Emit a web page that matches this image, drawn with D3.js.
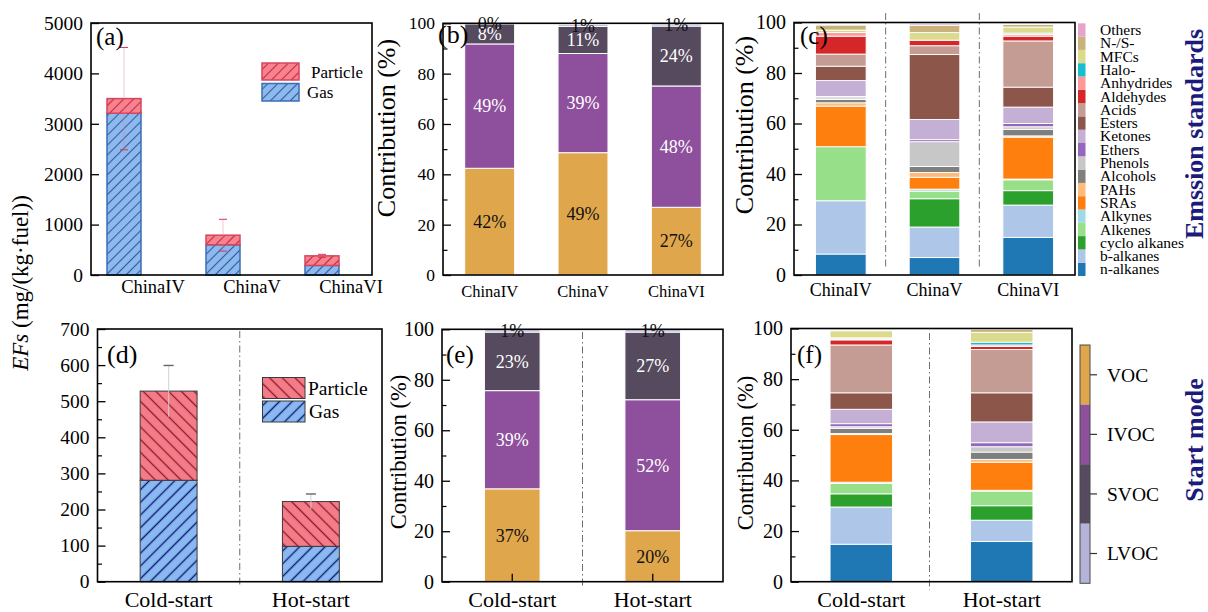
<!DOCTYPE html>
<html>
<head>
<meta charset="utf-8">
<script src="https://cdn.jsdelivr.net/npm/d3@7"></script>
<style>
  body { margin: 0; background: #fff; }
  svg { display: block; }
</style>
</head>
<body>
<svg id="fig" width="1208" height="612"></svg>
<script>
// ---------- categories ----------
const standards = ["ChinaIV", "ChinaV", "ChinaVI"];
const startModes = ["Cold-start", "Hot-start"];

// ---------- (a) emission factors by emission standard, mg/(kg·fuel) ----------
const gasStd = [3210, 600, 190];
const particleStd = [290, 190, 190];
const errStd = [1015, 315, 30];

// ---------- (d) emission factors by start mode ----------
const gasStart = [281, 98];
const particleStart = [247, 124];
const errStart = [71, 21];

// ---------- (b), (e) volatility fractions, % ----------
const volatility = ["VOC", "IVOC", "SVOC", "LVOC"];
const vocStd = [42.4, 48.6, 26.9];
const ivocStd = [49.4, 39.4, 48.2];
const svocStd = [8.0, 10.8, 23.8];
const lvocStd = [0.2, 0.8, 0.8];
const vocStart = [36.8, 20.2];
const ivocStart = [38.9, 51.9];
const svocStart = [23.2, 26.8];
const lvocStart = [0.9, 0.9];

// ---------- (c), (f) compound classes, % ----------
const classes = ["n-alkanes", "b-alkanes", "cyclo alkanes", "Alkenes", "Alkynes", "SRAs", "PAHs",
  "Alcohols", "Phenols", "Ethers", "Ketones", "Esters", "Acids", "Aldehydes", "Anhydrides",
  "Halo-", "MFCs", "N-/S-", "Others"];
const chinaIV  = [8.3, 21.1, 0, 21.4, 0, 16.1, 1.3, 1.3, 0.7, 0.5, 6.3, 5.7, 4.8, 7.1, 1.4, 0, 1.0, 2.0, 0.3];
const chinaV   = [6.9, 12.1, 11.2, 3.0, 0.8, 4.7, 1.9, 2.4, 9.8, 0.8, 8.0, 25.7, 3.5, 2.2, 0, 0, 3.0, 2.9, 0.6];
const chinaVI  = [14.9, 12.8, 5.7, 4.3, 0.3, 16.6, 0.5, 2.6, 1.0, 1.3, 6.5, 7.9, 18.3, 1.9, 0.7, 0.5, 2.4, 1.0, 0.3];
const coldStart = [14.8, 14.7, 5.2, 4.1, 0.5, 18.8, 0.4, 2.1, 0.6, 1.2, 5.7, 6.5, 18.9, 2.0, 0.4, 0.4, 2.8, 0.4, 0];
const hotStart  = [15.9, 8.4, 5.7, 5.8, 0.3, 11.1, 1.1, 2.9, 2.1, 1.6, 8.2, 11.5, 17.1, 1.2, 0.6, 1.1, 3.9, 1.1, 0.2];

// ---------- tick values ----------
const ticksEFStd = [0, 1000, 2000, 3000, 4000, 5000];
const ticksEFStart = [0, 100, 200, 300, 400, 500, 600, 700];
const minorEFStart = [50, 150, 250, 350, 450, 550, 650];
const ticksPct = [0, 20, 40, 60, 80, 100];
const minorPct = [10, 30, 50, 70, 90];

// ---------- styling ----------
const SERIF = "'Liberation Serif','Times New Roman',serif";
const classColors = ["#1f77b4", "#aec7e8", "#2ca02c", "#98df8a", "#9edae5", "#ff7f0e", "#ffbb78",
  "#7f7f7f", "#c7c7c7", "#9467bd", "#c5b0d5", "#8c564b", "#c49c94", "#d62728", "#ff9896",
  "#17becf", "#dbdb8d", "#c9b27c", "#e7a3cb"];
const volColors = { VOC: "#e0a64b", IVOC: "#8e4f9c", SVOC: "#564a5e", LVOC: "#b4b3d8" };
const volText = { VOC: "#111", IVOC: "#fff", SVOC: "#fff", LVOC: "#111" };
const classColor = d3.scaleOrdinal().domain(classes).range(classColors);

const svg = d3.select("#fig");
const defs = svg.append("defs");

function hatch(id, bg, fg, size, angle, sw) {
  const p = defs.append("pattern").attr("id", id).attr("patternUnits", "userSpaceOnUse")
    .attr("width", size).attr("height", size).attr("patternTransform", `rotate(${angle})`);
  p.append("rect").attr("width", size).attr("height", size).attr("fill", bg);
  p.append("line").attr("x1", size / 2).attr("x2", size / 2).attr("y1", 0).attr("y2", size)
    .attr("stroke", fg).attr("stroke-width", sw);
}
hatch("gasA", "#8db9ef", "#2f5e9e", 7, 45, 1.1);
hatch("parA", "#f7838f", "#c8243f", 7, 45, 1.1);
hatch("gasD", "#8ab8f0", "#0c1a78", 9, 45, 1.4);
hatch("parD", "#f47c86", "#8c1838", 9, -45, 1.3);

// panel plot boxes
const A = { l: 91, t: 23, r: 372, b: 275 };
const B = { l: 443, t: 23.3, r: 723, b: 275 };
const C = { l: 794, t: 22.5, r: 1075, b: 275 };
const D = { l: 97.5, t: 329, r: 382, b: 581.7 };
const E = { l: 442, t: 329.3, r: 723, b: 581.7 };
const F = { l: 791, t: 328.5, r: 1072, b: 581.7 };

function frame(p) {
  svg.append("rect").attr("x", p.l).attr("y", p.t).attr("width", p.r - p.l).attr("height", p.b - p.t)
    .attr("fill", "none").attr("stroke", "#000").attr("stroke-width", 1.6);
}

function yAxis(p, y, major, minor, fs) {
  const g = svg.append("g").attr("transform", `translate(${p.l},0)`)
    .call(d3.axisLeft(y).tickValues(major).tickFormat(d3.format("d"))
      .tickSizeInner(-8).tickSizeOuter(0).tickPadding(8));
  g.select(".domain").remove();
  g.selectAll("line").attr("stroke", "#000").attr("stroke-width", 1.3);
  g.selectAll("text").attr("font-family", SERIF).attr("font-size", fs).attr("fill", "#000");
  if (minor) {
    const m = svg.append("g").attr("transform", `translate(${p.l},0)`)
      .call(d3.axisLeft(y).tickValues(minor).tickSizeInner(-4.5).tickSizeOuter(0).tickFormat(""));
    m.select(".domain").remove();
    m.selectAll("line").attr("stroke", "#000").attr("stroke-width", 1.2);
  }
}

function catLabels(x, cats, yb, fs, offset) {
  svg.append("g").selectAll("text").data(cats).join("text")
    .attr("x", d => x(d) + offset).attr("y", yb)
    .attr("text-anchor", "middle").attr("font-family", SERIF).attr("font-size", fs)
    .text(d => d);
}

function yTitle(x, y, fs, parts) {
  const t = svg.append("text").attr("transform", `translate(${x},${y}) rotate(-90)`)
    .attr("text-anchor", "middle").attr("font-family", SERIF).attr("font-size", fs);
  parts.forEach(p => t.append("tspan").attr("font-style", p.italic ? "italic" : null).text(p.text));
}

function panelTag(x, y, fs, s) {
  svg.append("text").attr("x", x).attr("y", y).attr("font-family", SERIF).attr("font-size", fs).text(s);
}

function separator(x, y1, y2) {
  svg.append("line").attr("x1", x).attr("x2", x).attr("y1", y1).attr("y2", y2)
    .attr("stroke", "#6e6e6e").attr("stroke-width", 1).attr("stroke-dasharray", "7,3,1.5,3");
}

// ===================== (a) =====================
{
  const y = d3.scaleLinear().domain([0, 5000]).range([A.b, A.t]);
  const x = d3.scalePoint().domain(standards).range([153, 351]);
  const bw = 34, off = -46;
  const rows = standards.map((c, i) => ({ cat: c, gas: gasStd[i], particle: particleStd[i], err: errStd[i] }));
  const g = svg.append("g");
  g.selectAll(".gas").data(rows).join("rect")
    .attr("x", d => x(d.cat) + off).attr("width", bw)
    .attr("y", d => y(d.gas)).attr("height", d => y(0) - y(d.gas))
    .attr("fill", "url(#gasA)").attr("stroke", "#3b6db5").attr("stroke-width", 1.5);
  g.selectAll(".par").data(rows).join("rect")
    .attr("x", d => x(d.cat) + off).attr("width", bw)
    .attr("y", d => y(d.gas + d.particle)).attr("height", d => y(d.gas) - y(d.gas + d.particle))
    .attr("fill", "url(#parA)").attr("stroke", "#d6455e").attr("stroke-width", 1.5);
  const eb = g.selectAll(".err").data(rows).join("g");
  const cx = d => x(d.cat) + off + bw / 2;
  eb.append("line").attr("x1", cx).attr("x2", cx)
    .attr("y1", d => y(d.gas + d.particle + d.err)).attr("y2", d => y(d.gas + d.particle - d.err))
    .attr("stroke", "#e87d8c").attr("stroke-width", 1).attr("stroke-opacity", 0.45);
  [1, -1].forEach(s => {
    eb.append("line").attr("x1", d => cx(d) - 4).attr("x2", d => cx(d) + 4)
      .attr("y1", d => y(d.gas + d.particle + s * d.err)).attr("y2", d => y(d.gas + d.particle + s * d.err))
      .attr("stroke", "#d9364f").attr("stroke-width", 1);
  });
  yAxis(A, y, ticksEFStd, null, 19.5);
  catLabels(x, standards, 293, 18.5, 0);
  // legend
  const lg = svg.append("g");
  lg.append("rect").attr("x", 262).attr("y", 63).attr("width", 37).attr("height", 17)
    .attr("fill", "url(#parA)").attr("stroke", "#d6455e").attr("stroke-width", 1.5);
  lg.append("rect").attr("x", 262).attr("y", 83.5).attr("width", 37).attr("height", 17.5)
    .attr("fill", "url(#gasA)").attr("stroke", "#3b6db5").attr("stroke-width", 1.5);
  lg.append("text").attr("x", 311).attr("y", 72).attr("dy", "0.35em").attr("font-family", SERIF).attr("font-size", 17).text("Particle");
  lg.append("text").attr("x", 307).attr("y", 92.5).attr("dy", "0.35em").attr("font-family", SERIF).attr("font-size", 17).text("Gas");
  frame(A);
  panelTag(96, 45, 25, "(a)");
}

// ===================== (d) =====================
{
  const y = d3.scaleLinear().domain([0, 700]).range([D.b, D.t]);
  const x = d3.scaleBand().domain(startModes).range([D.l, D.r]).paddingInner(0.6).paddingOuter(0.3);
  separator((D.l + D.r) / 2, D.t + 2, 585);
  const rows = startModes.map((c, i) => ({ cat: c, gas: gasStart[i], particle: particleStart[i], err: errStart[i] }));
  const g = svg.append("g");
  g.selectAll(".gas").data(rows).join("rect")
    .attr("x", d => x(d.cat)).attr("width", x.bandwidth())
    .attr("y", d => y(d.gas)).attr("height", d => y(0) - y(d.gas))
    .attr("fill", "url(#gasD)").attr("stroke", "#3a3a3a").attr("stroke-width", 1);
  const cx = d => x(d.cat) + x.bandwidth() / 2;
  g.selectAll(".par").data(rows).join("rect")
    .attr("x", d => x(d.cat)).attr("width", x.bandwidth())
    .attr("y", d => y(d.gas + d.particle)).attr("height", d => y(d.gas) - y(d.gas + d.particle))
    .attr("fill", "url(#parD)").attr("stroke", "#3a3a3a").attr("stroke-width", 1);
  // whisker, faint inside the bar, with a cap at the upper end
  g.selectAll(".errl").data(rows).join("line").attr("x1", cx).attr("x2", cx)
    .attr("y1", d => y(d.gas + d.particle + d.err)).attr("y2", d => y(d.gas + d.particle - d.err))
    .attr("stroke", "#cfcfcf").attr("stroke-width", 1.2).attr("stroke-opacity", 0.8);
  g.selectAll(".cap").data(rows).join("line")
    .attr("x1", d => cx(d) - 5).attr("x2", d => cx(d) + 5)
    .attr("y1", d => y(d.gas + d.particle + d.err)).attr("y2", d => y(d.gas + d.particle + d.err))
    .attr("stroke", "#666").attr("stroke-width", 1.4);
  yAxis(D, y, ticksEFStart, minorEFStart, 19.5);
  catLabels(x, startModes, 607, 22, x.bandwidth() / 2);
  const lg = svg.append("g");
  lg.append("rect").attr("x", 262.5).attr("y", 377.5).attr("width", 42.5).attr("height", 21)
    .attr("fill", "url(#parD)").attr("stroke", "#3a3a3a").attr("stroke-width", 1);
  lg.append("rect").attr("x", 262.5).attr("y", 401).attr("width", 42.5).attr("height", 21)
    .attr("fill", "url(#gasD)").attr("stroke", "#3a3a3a").attr("stroke-width", 1);
  lg.append("text").attr("x", 308).attr("y", 388).attr("dy", "0.35em").attr("font-family", SERIF).attr("font-size", 19.5).text("Particle");
  lg.append("text").attr("x", 309).attr("y", 411.5).attr("dy", "0.35em").attr("font-family", SERIF).attr("font-size", 19.5).text("Gas");
  frame(D);
  panelTag(107, 363, 26, "(d)");
}

// ===================== volatility panels (b), (e) =====================
function volPanel(p, cats, cols, pi, showXTicks, tickFs, catFs, catY) {
  const y = d3.scaleLinear().domain([0, 100]).range([p.b, p.t]);
  const x = d3.scaleBand().domain(cats).range([p.l, p.r]).paddingInner(pi).paddingOuter(pi / 2);
  const rows = cats.map((c, i) => { const o = { cat: c }; volatility.forEach((k, j) => o[k] = cols[j][i]); return o; });
  const series = d3.stack().keys(volatility)(rows);
  const g = svg.append("g");
  series.forEach(s => {
    g.append("g").selectAll("rect").data(s).join("rect")
      .attr("x", d => x(d.data.cat)).attr("width", x.bandwidth())
      .attr("y", d => y(d[1])).attr("height", d => y(d[0]) - y(d[1]))
      .attr("fill", volColors[s.key]).attr("stroke", "#fff").attr("stroke-width", 1);
  });
  series.forEach(s => {
    g.append("g").selectAll("text").data(s).join("text")
      .attr("x", d => x(d.data.cat) + x.bandwidth() / 2).attr("y", d => y((d[0] + d[1]) / 2))
      .attr("dy", "0.35em").attr("text-anchor", "middle")
      .attr("font-family", SERIF).attr("font-size", 18).attr("fill", volText[s.key])
      .text(d => d3.format(".0f")(d[1] - d[0]) + "%");
  });
  if (showXTicks) {
    svg.append("g").selectAll("line").data(cats).join("line")
      .attr("x1", d => x(d) + x.bandwidth() / 2).attr("x2", d => x(d) + x.bandwidth() / 2)
      .attr("y1", p.b).attr("y2", p.b - 8).attr("stroke", "#000").attr("stroke-width", 1.3);
  }
  yAxis(p, y, ticksPct, minorPct, tickFs);
  catLabels(x, cats, catY, catFs, x.bandwidth() / 2);
  return x;
}

// (b)
volPanel(B, standards, [vocStd, ivocStd, svocStd, lvocStd], 0.465, false, 17.5, 16.5, 297);
frame(B);
yTitle(395, 128, 26, [{ text: "Contribution (%)" }]);
panelTag(438, 43, 26, "(b)");

// (e)
{
  separator((E.l + E.r) / 2, 332, 588);
  volPanel(E, startModes, [vocStart, ivocStart, svocStart, lvocStart], 0.604, true, 20, 22, 607);
  frame(E);
  yTitle(406, 452, 22.5, [{ text: "Contribution (%)" }]);
  panelTag(446, 363, 25, "(e)");
}

// ===================== compound class panels (c), (f) =====================
function classPanel(p, cats, table, pi, sepY1, sepY2, tickFs, catFs, catY) {
  const y = d3.scaleLinear().domain([0, 100]).range([p.b, p.t]);
  const x = d3.scaleBand().domain(cats).range([p.l, p.r]).paddingInner(pi).paddingOuter(pi / 2);
  for (let k = 1; k < cats.length; k++) separator(p.l + x.step() * k - 2, sepY1, sepY2);
  const rows = cats.map((c, i) => { const o = { cat: c }; classes.forEach((k, j) => o[k] = table[i][j]); return o; });
  const series = d3.stack().keys(classes)(rows);
  const g = svg.append("g");
  series.forEach(s => {
    g.append("g").selectAll("rect").data(s.filter(d => d[1] - d[0] > 0)).join("rect")
      .attr("x", d => x(d.data.cat)).attr("width", x.bandwidth())
      .attr("y", d => y(d[1])).attr("height", d => y(d[0]) - y(d[1]))
      .attr("fill", classColor(s.key)).attr("stroke", "#fff").attr("stroke-width", 0.9);
  });
  yAxis(p, y, ticksPct, minorPct, tickFs);
  catLabels(x, cats, catY, catFs, x.bandwidth() / 2);
}

// (c)
classPanel(C, standards, [chinaIV, chinaV, chinaVI], 0.46, 13, 267, 20, 18, 296);
frame(C);
yTitle(753, 125, 26, [{ text: "Contribution (%)" }]);
panelTag(800, 44, 25, "(c)");

// (f)
classPanel(F, startModes, [coldStart, hotStart], 0.556, 333, 590, 20, 22, 607);
frame(F);
yTitle(753, 453, 22.5, [{ text: "Contribution (%)" }]);
panelTag(797, 363, 25, "(f)");

// ---------- compound class legend ----------
{
  const ly = d3.scaleBand().domain(classes.slice().reverse()).range([23.3, 276]);
  const g = svg.append("g");
  g.selectAll("rect").data(classes).join("rect")
    .attr("x", 1078).attr("width", 7.5).attr("y", d => ly(d)).attr("height", ly.bandwidth())
    .attr("fill", d => classColor(d));
  g.selectAll("text").data(classes).join("text")
    .attr("x", 1100).attr("y", d => ly(d) + ly.bandwidth() / 2).attr("dy", "0.33em")
    .attr("font-family", SERIF).attr("font-size", 15.5).text(d => d);
}

// ---------- volatility colour key ----------
{
  const ly = d3.scaleBand().domain(volatility).range([345, 583.3]);
  const g = svg.append("g");
  g.selectAll("rect").data(volatility).join("rect")
    .attr("x", 1080).attr("width", 10).attr("y", d => ly(d)).attr("height", ly.bandwidth())
    .attr("fill", d => volColors[d]);
  g.append("rect").attr("x", 1080).attr("y", 345).attr("width", 10).attr("height", 583.3 - 345)
    .attr("fill", "none").attr("stroke", "#4a4a4a").attr("stroke-width", 1);
  g.selectAll("line").data(volatility).join("line")
    .attr("x1", 1090).attr("x2", 1097).attr("y1", d => ly(d) + ly.bandwidth() / 2).attr("y2", d => ly(d) + ly.bandwidth() / 2)
    .attr("stroke", "#333").attr("stroke-width", 1.2);
  g.selectAll("text").data(volatility).join("text")
    .attr("x", 1107).attr("y", d => ly(d) + ly.bandwidth() / 2).attr("dy", "0.35em")
    .attr("font-family", SERIF).attr("font-size", 19.5).text(d => d);
}

// ---------- shared and row titles ----------
yTitle(28, 283, 23, [{ text: "EFs", italic: true }, { text: " (mg/(kg·fuel))" }]);
svg.append("text").attr("transform", "translate(1203,134) rotate(-90)").attr("text-anchor", "middle")
  .attr("font-family", SERIF).attr("font-size", 26).attr("font-weight", "bold").attr("fill", "#1b1b7e")
  .text("Emssion standards");
svg.append("text").attr("transform", "translate(1203,440) rotate(-90)").attr("text-anchor", "middle")
  .attr("font-family", SERIF).attr("font-size", 26).attr("font-weight", "bold").attr("fill", "#1b1b7e")
  .text("Start mode");
</script>
</body>
</html>
